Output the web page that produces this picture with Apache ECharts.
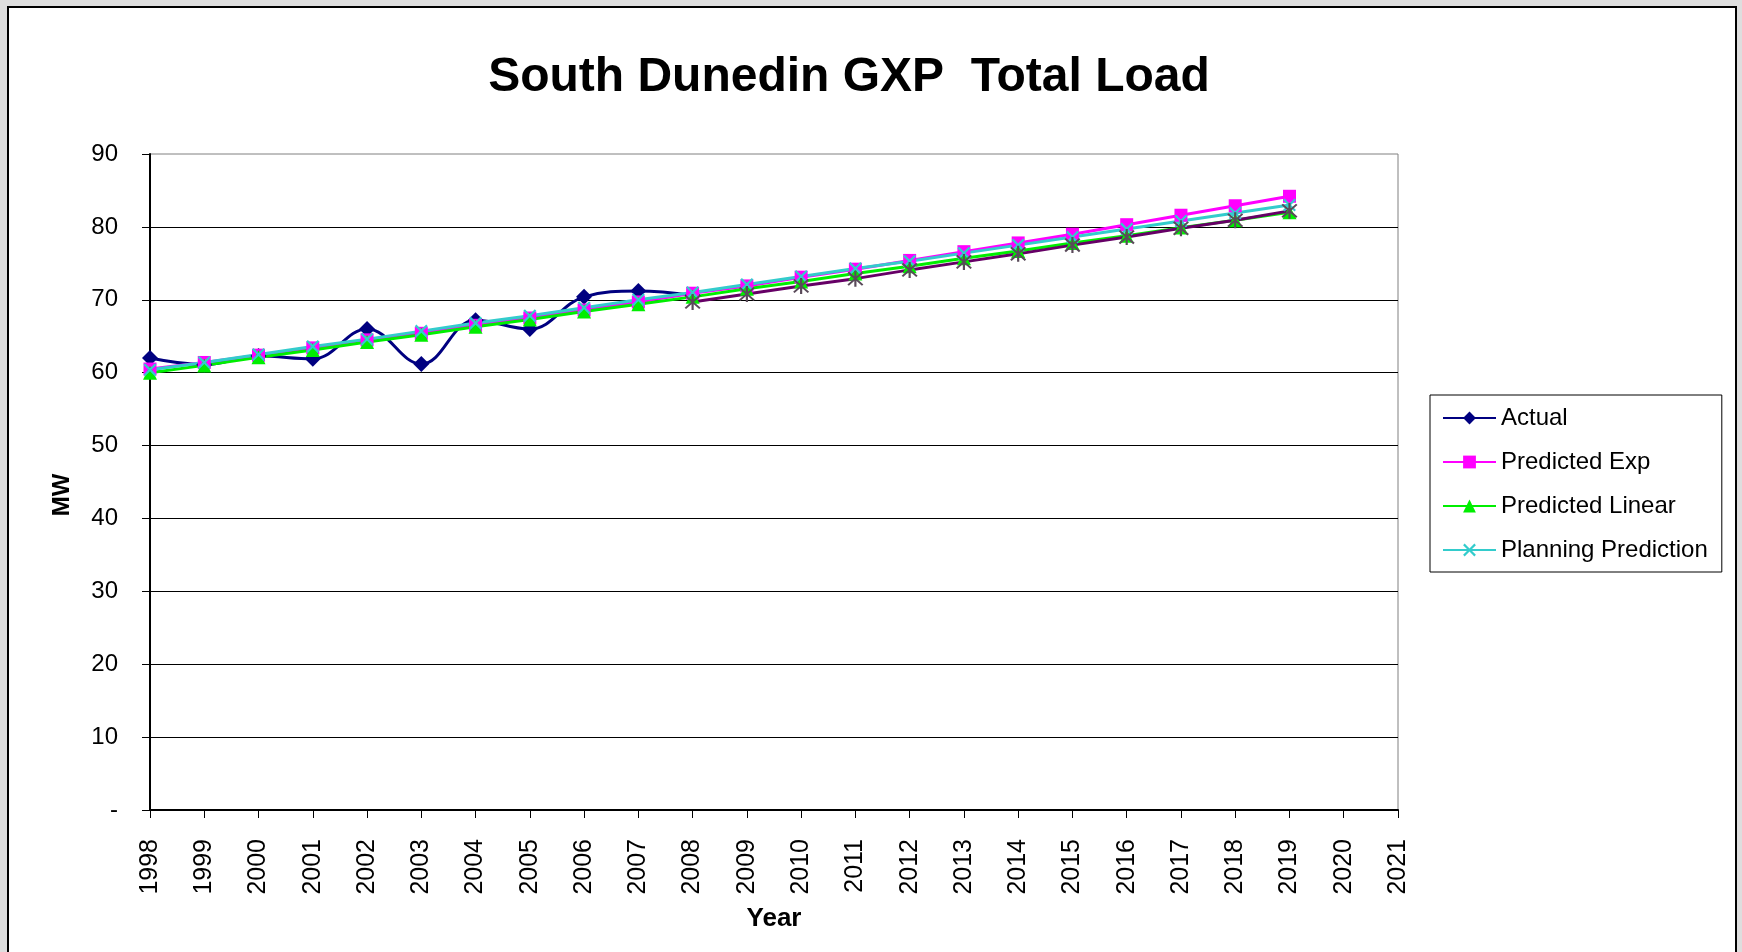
<!DOCTYPE html>
<html>
<head>
<meta charset="utf-8">
<script src="https://cdn.jsdelivr.net/npm/echarts@6/dist/echarts.min.js"></script>
<style>
  html, body { margin: 0; padding: 0; background: #dedede; }
  .frame {
    position: absolute; left: 7px; top: 6px; width: 1726px; height: 980px;
    background: #fff; border: 2px solid #000;
  }
  #chart { position: absolute; left: 0; top: 0; width: 1742px; height: 952px; }
</style>
</head>
<body>
<div class="frame"></div>
<div id="chart"></div>
<script>
// years on the category axis
const years = ['1998','1999','2000','2001','2002','2003','2004','2005','2006','2007','2008','2009',
  '2010','2011','2012','2013','2014','2015','2016','2017','2018','2019','2020','2021'];

const actual = [62.0, 61.1, 62.3, 61.9, 66.0, 61.2, 67.2, 66.0, 70.4, 71.2, 70.6];
const predictedExp = [60.5, 61.4, 62.4, 63.4, 64.5, 65.4, 66.5, 67.5, 68.6, 69.7, 70.9, 71.9,
  73.1, 74.2, 75.4, 76.6, 77.8, 79.0, 80.3, 81.6, 82.9, 84.2];
const predictedLinear = [60.0, 61.0, 62.1, 63.1, 64.2, 65.2, 66.3, 67.3, 68.4, 69.4, 70.4, 71.5,
  72.5, 73.6, 74.6, 75.7, 76.7, 77.8, 78.8, 79.9, 80.9, 82.0];
const planning = [60.4, 61.4, 62.5, 63.6, 64.6, 65.7, 66.8, 67.8, 68.9, 70.0, 71.0, 72.1,
  73.2, 74.3, 75.3, 76.4, 77.5, 78.6, 79.7, 80.8, 81.9, 83.0];
// unnamed fifth series (not in legend), 2008 onwards
const extra = [null, null, null, null, null, null, null, null, null, null, 69.7, 70.8,
  71.9, 72.9, 74.1, 75.2, 76.3, 77.5, 78.6, 79.8, 80.9, 82.2];

const font = 'Liberation Sans, Arial, sans-serif';
const crossPath = 'path://M0,1.2L1.2,0L5,3.8L8.8,0L10,1.2L6.2,5L10,8.8L8.8,10L5,6.2L1.2,10L0,8.8L3.8,5Z';
const starPath = 'path://M4.4,0h1.2v10h-1.2z M0.6,1.4L1.4,0.6L9.4,8.6L8.6,9.4Z M8.6,0.6L9.4,1.4L1.4,9.4L0.6,8.6Z';

const chart = echarts.init(document.getElementById('chart'));
const option = {
  backgroundColor: 'transparent',
  animation: false,
  title: {
    text: 'South Dunedin GXP  Total Load',
    left: 844,
    top: 49,
    textAlign: 'center',
    textStyle: { fontFamily: font, fontSize: 48, fontWeight: 'bold', color: '#000' }
  },
  legend: {
    orient: 'vertical',
    left: 1430,
    top: 395,
    padding: [11, 14, 10, 12],
    itemWidth: 53,
    itemHeight: 16,
    itemGap: 20,
    borderColor: '#000',
    borderWidth: 1,
    backgroundColor: '#fff',
    textStyle: { fontFamily: font, fontSize: 24, color: '#000' },
    data: ['Actual', 'Predicted Exp', 'Predicted Linear', 'Planning Prediction']
  },
  grid: {
    left: 150, right: 344, top: 154, bottom: 142,
    show: true, borderColor: '#808080', borderWidth: 1, backgroundColor: '#fff'
  },
  xAxis: {
    type: 'category',
    data: years,
    boundaryGap: false,
    name: 'Year',
    nameLocation: 'middle',
    nameGap: 96,
    nameTextStyle: { fontFamily: font, fontSize: 26, fontWeight: 'bold', color: '#000' },
    axisLine: { lineStyle: { color: '#000', width: 2 } },
    axisTick: { show: true, length: 8, interval: 0, lineStyle: { color: '#000' } },
    axisLabel: { interval: 0, rotate: 90, margin: 29, fontFamily: font, fontSize: 25, color: '#000' },
    splitLine: { show: false }
  },
  yAxis: {
    type: 'value',
    min: 0, max: 90, interval: 10,
    name: 'MW',
    nameLocation: 'middle',
    nameRotate: 90,
    nameGap: 76,
    nameTextStyle: { fontFamily: font, fontSize: 24, fontWeight: 'bold', color: '#000', padding: [0, 26, 0, 0] },
    axisLine: { show: true, lineStyle: { color: '#000', width: 2 } },
    axisTick: { show: true, length: 8, lineStyle: { color: '#000' } },
    axisLabel: {
      margin: 32, fontFamily: font, fontSize: 24, color: '#000',
      formatter: v => (v === 0 ? '-' : v)
    },
    splitLine: { show: true, showMaxLine: false, lineStyle: { color: '#000', width: 1 } }
  },
  series: [
    {
      name: 'Actual', type: 'line', data: actual, smooth: 0.4,
      symbol: 'diamond', symbolSize: 16,
      lineStyle: { color: '#000080', width: 3 },
      itemStyle: { color: '#000080' }
    },
    {
      name: 'Predicted Exp', type: 'line', data: predictedExp,
      symbol: 'rect', symbolSize: 13,
      lineStyle: { color: '#ff00ff', width: 3 },
      itemStyle: { color: '#ff00ff' }
    },
    {
      name: 'Predicted Linear', type: 'line', data: predictedLinear,
      symbol: 'triangle', symbolSize: 14,
      lineStyle: { color: '#00ee00', width: 3 },
      itemStyle: { color: '#00ee00' }
    },
    {
      name: 'Planning Prediction', type: 'line', data: planning,
      symbol: crossPath, symbolSize: 13,
      lineStyle: { color: '#33cccc', width: 3 },
      itemStyle: { color: '#33cccc' }
    },
    {
      name: 'Series5', type: 'line', data: extra,
      symbol: starPath, symbolSize: 16,
      lineStyle: { color: '#660066', width: 3 },
      itemStyle: { color: '#5a4a5a' }
    }
  ]
};
chart.setOption(option);
</script>
</body>
</html>
